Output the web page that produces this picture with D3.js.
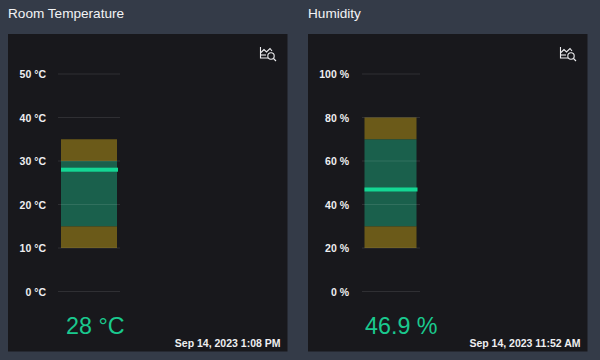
<!DOCTYPE html>
<html>
<head>
<meta charset="utf-8">
<script src="https://cdn.jsdelivr.net/npm/d3@7"></script>
<style>
  html, body { margin: 0; padding: 0; background: #343b48; }
  svg { display: block; }
  text { font-family: "Liberation Sans", Arial, sans-serif; }
  .axis path { display: none; }
  .axis line { stroke: #fff; stroke-opacity: 0.1; stroke-width: 1; }
  .axis text { fill: #eeeef0; font-size: 10.5px; font-weight: bold; }
</style>
</head>
<body>
<div class="chart"></div>
<script>
const titles = ["Room Temperature", "Humidity"];
const units = ["°C", "%"];
const axisMax = [50, 100];
const tickValues = [[0, 10, 20, 30, 40, 50], [0, 20, 40, 60, 80, 100]];
const bandStops = [[10, 15, 30, 35], [20, 30, 70, 80]];
const bandKinds = ["warn", "ok", "warn"];
const currentValues = [28, 46.9];
const currentLabels = ["28 °C", "46.9 %"];
const timestamps = ["Sep 14, 2023 1:08 PM", "Sep 14, 2023 11:52 AM"];

const bandColors = { warn: "#6b5a19", ok: "#1a604c" };
const panelX = [8, 308];
const axisX = [50, 54];
const barLeft = [3, 2.5];
const barWidth = [56, 52];
const gridWidth = [62, 58];
const tickPad = [12, 13];

const svg = d3.select(".chart").append("svg").attr("width", 600).attr("height", 360);

const yScale = (i) => d3.scaleLinear().domain([0, axisMax[i]]).range([291.5, 74]);

titles.forEach((title, i) => {
  const g = svg.append("g").attr("transform", `translate(${panelX[i]},0)`);
  const y = yScale(i);

  g.append("text")
    .attr("x", 0)
    .attr("y", 18)
    .attr("fill", "#f2f3f5")
    .style("font-size", "13.6px")
    .text(title);

  g.append("rect")
    .attr("y", 34)
    .attr("width", 279.5)
    .attr("height", 317.5)
    .attr("fill", "#18181c");

  // grid lines and labels
  const axis = d3.axisLeft(y)
    .tickValues(tickValues[i])
    .tickSize(-gridWidth[i])
    .tickPadding(tickPad[i])
    .offset(0)
    .tickFormat((d) => `${d} ${units[i]}`);
  const inner = g.append("g").attr("transform", `translate(${axisX[i]},0)`);

  // threshold bands
  const bands = d3.pairs(bandStops[i]).map((p, k) => ({ from: p[0], to: p[1], kind: bandKinds[k] }));
  inner.selectAll("rect.band")
    .data(bands)
    .enter()
    .append("rect")
    .attr("class", "band")
    .attr("x", barLeft[i])
    .attr("y", (d) => y(d.to))
    .attr("width", barWidth[i])
    .attr("height", (d) => y(d.from) - y(d.to))
    .attr("fill", (d) => bandColors[d.kind]);

  inner.append("g").attr("class", "axis").call(axis)
    .selectAll("text")
    .attr("dy", "0.4em");

  // current value marker
  inner.append("rect")
    .attr("x", barLeft[i])
    .attr("y", y(currentValues[i]) - 2)
    .attr("width", barWidth[i] + 1)
    .attr("height", 4)
    .attr("fill", "#14d794");

  g.append("text")
    .attr("x", i ? 57 : 58)
    .attr("y", 334)
    .attr("fill", "#1ac98e")
    .style("font-size", "23.3px")
    .text(currentLabels[i]);

  g.append("text")
    .attr("x", 272.5)
    .attr("y", 347)
    .attr("text-anchor", "end")
    .attr("fill", "#eeeef0")
    .style("font-size", "10.5px")
    .style("font-weight", "bold")
    .text(timestamps[i]);

  // zoom chart icon
  const icon = g.append("g")
    .attr("transform", "translate(252,46)")
    .attr("fill", "none")
    .attr("stroke", "#eeeef0")
    .attr("stroke-width", 1.1);
  icon.append("path").attr("d", "M0.5 1V12H8");
  icon.append("path").attr("d", "M1 6.5L4 3.5L6.5 6L10 2.5L12 5");
  icon.append("path").attr("d", "M1 9H6");
  icon.append("circle").attr("cx", 11).attr("cy", 10).attr("r", 3.2);
  icon.append("path").attr("d", "M13.5 12.5L16 15");
});
</script>
</body>
</html>
